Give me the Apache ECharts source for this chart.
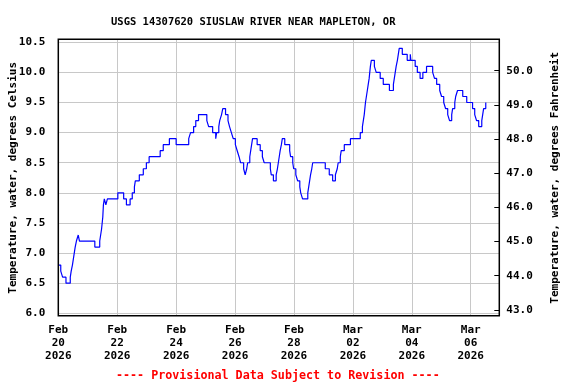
<!DOCTYPE html>
<html>
<head>
<meta charset="utf-8">
<script src="https://cdn.jsdelivr.net/npm/echarts@6/dist/echarts.min.js"></script>
<style>
html,body{margin:0;padding:0;background:#fff;}
#chart{width:576px;height:384px;}
</style>
</head>
<body>
<div id="chart"></div>
<script>
const chartTitle = 'USGS 14307620 SIUSLAW RIVER NEAR MAPLETON, OR';
const footerText = '---- Provisional Data Subject to Revision ----';
const leftAxisName = 'Temperature, water, degrees Celsius';
const rightAxisName = 'Temperature, water, degrees Fahrenheit';
const fahrenheitTicks = [43, 44, 45, 46, 47, 48, 49, 50];
const monthNames = ['Jan','Feb','Mar','Apr','May','Jun','Jul','Aug','Sep','Oct','Nov','Dec'];

const times = [
"2026-02-20 00:00","2026-02-20 02:00","2026-02-20 03:30","2026-02-20 06:15","2026-02-20 09:45","2026-02-20 10:30","2026-02-20 11:30","2026-02-20 12:15","2026-02-20 13:00","2026-02-20 13:45","2026-02-20 14:45","2026-02-20 16:15","2026-02-20 17:15",
"2026-02-21 05:45","2026-02-21 09:45","2026-02-21 10:30","2026-02-21 11:15","2026-02-21 12:15","2026-02-21 12:45","2026-02-21 13:30","2026-02-21 14:45","2026-02-21 16:00",
"2026-02-22 00:30","2026-02-22 05:15","2026-02-22 07:30","2026-02-22 10:30","2026-02-22 12:15","2026-02-22 14:00","2026-02-22 14:45","2026-02-22 18:00","2026-02-22 21:15","2026-02-22 23:45",
"2026-02-23 02:00","2026-02-23 11:00","2026-02-23 13:30","2026-02-23 18:30",
"2026-02-24 00:00","2026-02-24 10:15","2026-02-24 11:45","2026-02-24 14:15","2026-02-24 16:00","2026-02-24 18:15",
"2026-02-25 01:00","2026-02-25 02:30","2026-02-25 05:45","2026-02-25 08:15","2026-02-25 09:00","2026-02-25 10:45","2026-02-25 11:30","2026-02-25 13:00","2026-02-25 14:00","2026-02-25 16:15","2026-02-25 18:15","2026-02-25 19:30","2026-02-25 21:00","2026-02-25 22:30",
"2026-02-26 00:15","2026-02-26 01:45","2026-02-26 03:15","2026-02-26 04:30","2026-02-26 07:00","2026-02-26 08:15","2026-02-26 09:30","2026-02-26 10:15","2026-02-26 12:00","2026-02-26 12:45","2026-02-26 13:30","2026-02-26 14:15","2026-02-26 18:00","2026-02-26 20:30","2026-02-26 22:15","2026-02-26 23:45",
"2026-02-27 04:45","2026-02-27 05:30","2026-02-27 07:15","2026-02-27 09:30","2026-02-27 10:30","2026-02-27 11:15","2026-02-27 12:00","2026-02-27 12:45","2026-02-27 13:45","2026-02-27 14:30","2026-02-27 16:30","2026-02-27 20:30","2026-02-27 21:15","2026-02-27 23:00","2026-02-27 23:45",
"2026-02-28 01:30","2026-02-28 03:00","2026-02-28 04:45","2026-02-28 05:30","2026-02-28 07:00","2026-02-28 11:15","2026-02-28 12:00","2026-02-28 12:45","2026-02-28 13:30","2026-02-28 14:30","2026-02-28 15:15",
"2026-03-01 01:30","2026-03-01 04:45","2026-03-01 07:30","2026-03-01 09:45","2026-03-01 11:15","2026-03-01 12:00","2026-03-01 13:45","2026-03-01 14:30","2026-03-01 17:00","2026-03-01 22:00",
"2026-03-02 06:00","2026-03-02 07:45","2026-03-02 08:30","2026-03-02 09:15","2026-03-02 10:15","2026-03-02 11:00","2026-03-02 11:45","2026-03-02 12:30","2026-03-02 13:15","2026-03-02 14:15","2026-03-02 15:00","2026-03-02 17:30","2026-03-02 19:00","2026-03-02 22:15",
"2026-03-03 00:45","2026-03-03 05:45","2026-03-03 09:00","2026-03-03 09:45","2026-03-03 10:30","2026-03-03 11:15","2026-03-03 12:15","2026-03-03 13:00","2026-03-03 13:45","2026-03-03 16:15","2026-03-03 20:15","2026-03-03 22:45","2026-03-03 23:15",
"2026-03-04 02:45","2026-03-04 04:30","2026-03-04 06:45","2026-03-04 09:00","2026-03-04 12:00","2026-03-04 17:00","2026-03-04 18:30","2026-03-04 20:15","2026-03-04 22:45",
"2026-03-05 00:15","2026-03-05 02:00","2026-03-05 03:30","2026-03-05 05:15","2026-03-05 06:45","2026-03-05 08:30","2026-03-05 09:15","2026-03-05 11:00","2026-03-05 11:45","2026-03-05 13:15","2026-03-05 17:30","2026-03-05 20:45",
"2026-03-06 01:30","2026-03-06 03:15","2026-03-06 04:45","2026-03-06 06:30","2026-03-06 09:00","2026-03-06 09:45","2026-03-06 10:30","2026-03-06 12:15","2026-03-06 12:45"
];

const tempC = [
6.8,6.7,6.6,6.5,6.6,6.7,6.8,6.9,7.0,7.1,7.2,7.3,7.2,
7.1,7.2,7.3,7.4,7.6,7.8,7.9,7.8,7.9,
8.0,7.9,7.8,7.9,8.0,8.1,8.2,8.3,8.4,8.5,
8.6,8.7,8.8,8.9,
8.8,8.9,9.0,9.1,9.2,9.3,
9.2,9.1,9.0,8.9,9.0,9.1,9.2,9.3,9.4,9.3,9.2,9.1,9.0,8.9,
8.8,8.7,8.6,8.5,8.4,8.3,8.4,8.5,8.6,8.7,8.8,8.9,8.8,8.7,8.6,8.5,
8.4,8.3,8.2,8.3,8.4,8.5,8.6,8.7,8.8,8.9,8.8,8.7,8.6,8.5,8.4,
8.3,8.2,8.1,8.0,7.9,8.0,8.1,8.2,8.3,8.4,8.5,
8.4,8.3,8.2,8.3,8.4,8.5,8.6,8.7,8.8,8.9,
9.0,9.1,9.2,9.3,9.5,9.6,9.7,9.8,9.9,10.1,10.2,10.1,10.0,9.9,
9.8,9.7,9.8,9.9,10.0,10.1,10.2,10.3,10.4,10.3,10.2,10.3,10.2,
10.1,10.0,9.9,10.0,10.1,10.0,9.9,9.8,9.7,
9.6,9.5,9.4,9.3,9.2,9.3,9.4,9.5,9.6,9.7,9.6,9.5,
9.4,9.3,9.2,9.1,9.2,9.3,9.4,9.5,9.5
];

function parseUTC(s) {
  const [d, t] = s.split(' ');
  const [Y, M, D] = d.split('-').map(Number);
  const [h, m] = t.split(':').map(Number);
  return Date.UTC(Y, M - 1, D, h, m);
}

const DAY = 86400000;
const xMin = Date.UTC(2026, 1, 20);
const xMax = xMin + 14.97 * DAY;
const seriesData = times.map((t, i) => [parseUTC(t), tempC[i]]);

const FONT = '"DejaVu Sans Mono", "Liberation Mono", monospace';
const txt = { fontFamily: FONT, fontWeight: 'bold', fontSize: 11, color: '#000' };

// layout (px)
const frameL = 58.3, frameR = 499.3, frameT = 39.3, frameB = 315.7;
const dataT = 42.3, dataB = 313.3;

const chart = echarts.init(document.getElementById('chart'), null, { renderer: 'canvas' });
chart.setOption({
  animation: false,
  backgroundColor: '#fff',
  title: [
    { text: chartTitle, left: 106, top: 12,
      textStyle: { fontFamily: FONT, fontWeight: 'bold', fontSize: 10.5, color: '#000' } },
    { text: footerText, left: 111, top: 365,
      textStyle: { fontFamily: FONT, fontWeight: 'bold', fontSize: 11.7, color: '#ff0000' } }
  ],
  grid: [
    { left: frameL, right: 576 - frameR, top: dataT, bottom: 384 - dataB,
      containLabel: false, outerBoundsMode: 'none' },
    { left: frameL, right: 576 - frameR, top: frameT, bottom: 384 - frameB,
      containLabel: false, outerBoundsMode: 'none' }
  ],
  xAxis: [
    { type: 'value', gridIndex: 0, min: xMin, max: xMax, show: false, splitLine: { show: false } },
    { type: 'value', gridIndex: 1, min: xMin, max: xMax, interval: 2 * DAY,
      axisLine: { show: false }, axisTick: { show: false },
      splitLine: { show: true, lineStyle: { color: '#c8c8c8', width: 1 } },
      axisLabel: Object.assign({}, txt, {
        margin: 8, lineHeight: 13, showMaxLabel: false,
        formatter: v => {
          const d = new Date(v);
          return monthNames[d.getUTCMonth()] + '\n' + String(d.getUTCDate()).padStart(2, '0') + '\n' + d.getUTCFullYear();
        }
      })
    }
  ],
  yAxis: [
    { type: 'value', gridIndex: 0, position: 'left', min: 6, max: 10.5, interval: 0.5,
      name: leftAxisName, nameLocation: 'middle', nameGap: 40, nameRotate: 90,
      nameMoveOverlap: false,
      nameTextStyle: txt,
      axisLine: { show: false }, axisTick: { show: false },
      splitLine: { show: true, lineStyle: { color: '#c8c8c8', width: 1 } },
      axisLabel: Object.assign({}, txt, { margin: 13, formatter: v => v.toFixed(1) })
    },
    { type: 'value', gridIndex: 0, position: 'right', min: 42.90, max: 50.83,
      name: rightAxisName, nameLocation: 'middle', nameGap: 50, nameRotate: 90,
      nameMoveOverlap: false,
      nameTextStyle: txt,
      axisLine: { show: false },
      axisTick: { show: true, inside: true, length: 5, customValues: fahrenheitTicks,
                  lineStyle: { color: '#000', width: 1 } },
      splitLine: { show: false },
      axisLabel: Object.assign({}, txt, { margin: 7, customValues: fahrenheitTicks,
                  formatter: v => Number(v).toFixed(1) })
    },
    { type: 'value', gridIndex: 1, min: 0, max: 1, show: false, splitLine: { show: false } }
  ],
  series: [
    { type: 'line', xAxisIndex: 0, yAxisIndex: 0, data: seriesData, step: 'end',
      showSymbol: false, symbol: 'none',
      lineStyle: { color: '#0000ff', width: 1.2 }, z: 5 }
  ],
  graphic: [
    { type: 'rect', z: 100, silent: true,
      shape: { x: frameL, y: frameT, width: frameR - frameL, height: frameB - frameT },
      style: { fill: 'none', stroke: '#000', lineWidth: 1.5 } }
  ]
});
</script>
</body>
</html>
